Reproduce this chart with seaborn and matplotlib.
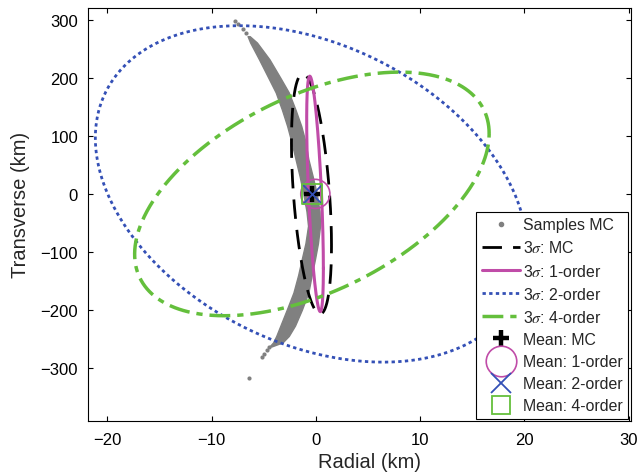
import numpy as np
import pandas as pd
import matplotlib
matplotlib.use("Agg")
import matplotlib.pyplot as plt
import seaborn as sns
from matplotlib.lines import Line2D

# ---------------- data (km) ----------------
# 3-sigma covariance ellipses: centre, 3-sigma extents and correlation
ell_labels = [r"3$\sigma$: MC", r"3$\sigma$: 1-order", r"3$\sigma$: 2-order", r"3$\sigma$: 4-order"]
ell_center_r = [-0.42, -0.08, -0.45, -0.38]
ell_center_t = [0.0, 0.0, 0.0, 0.0]
ell_3sig_r = [1.92, 0.8, 20.7, 17.0]
ell_3sig_t = [207.0, 203.0, 290.0, 210.0]
ell_corr = [-0.43, -0.63, -0.333, 0.495]

# mean estimates
mean_labels = ["Mean: MC", "Mean: 1-order", "Mean: 2-order", "Mean: 4-order"]
mean_r = [-0.38, -0.05, -0.36, -0.38]
mean_t = [0.0, 0.0, 0.0, 0.0]

# Monte Carlo sample cloud: dense band outline (transverse level, left / right radial edge)
band_t = [272, 261, 232, 200, 175, 145, 117, 90, 60, 30, 0, -30, -55, -85, -112, -140, -170, -200, -227, -245, -256, -263]
band_left = [-6.55, -6.3, -5.45, -4.55, -3.85, -3.25, -2.75, -2.35, -1.95, -1.55, -1.2, -0.9, -0.75, -1.0, -1.35, -1.7, -2.15, -2.8, -3.4, -3.8, -4.1, -4.45]
band_right = [-6.35, -5.65, -4.45, -3.4, -2.6, -1.95, -1.4, -1.0, -0.72, -0.3, 0.09, 0.35, 0.4, 0.2, -0.08, -0.4, -0.72, -1.35, -2.0, -2.6, -3.2, -4.25]
# sparse samples outside the dense band
tail_r = [-7.74, -7.42, -7.0, -6.7, -4.45, -4.7, -4.95, -5.18, -6.37]
tail_t = [298, 292.6, 284, 278, -264, -269, -276, -281.6, -318]

# ---------------- style ----------------
sns.set_theme(style="ticks")
plt.rcParams["font.family"] = ["Liberation Sans", "DejaVu Sans"]
plt.rcParams["mathtext.fontset"] = "stix"
plt.rcParams["axes.linewidth"] = 0.8

c_gray = "#808080"
c_mag = "#c04ca8"
c_blue = "#3450b6"
c_green = "#64bf3c"
ell_colors = ["black", c_mag, c_blue, c_green]
ell_styles = [(0, (7, 4)), "-", (0, (1.2, 1.2)), (0, (6.0, 2.0, 1.8, 2.0))]
ell_widths = [2.0, 2.2, 2.0, 2.5]

fig = plt.figure(figsize=(6.38, 4.77), dpi=100)
ax = fig.add_axes([0.1375, 0.1147, 0.8508, 0.8658])

# sample cloud
ax.fill_betweenx(band_t, band_left, band_right, color=c_gray, linewidth=1.0, edgecolor=c_gray, zorder=1)
sns.scatterplot(x=tail_r, y=tail_t, color=c_gray, s=9, linewidth=0, ax=ax, zorder=1)

# covariance ellipses
theta = np.linspace(0, 2 * np.pi, 721)
for i in range(4):
    a = ell_3sig_r[i]
    b = ell_3sig_t[i]
    rho = ell_corr[i]
    er = ell_center_r[i] + a * np.cos(theta)
    et = ell_center_t[i] + b * (rho * np.cos(theta) + np.sqrt(1 - rho ** 2) * np.sin(theta))
    df = pd.DataFrame({"r": er, "t": et})
    sns.lineplot(data=df, x="r", y="t", sort=False, estimator=None, color=ell_colors[i],
                 linestyle=ell_styles[i], linewidth=ell_widths[i], dash_capstyle="butt",
                 ax=ax, zorder=2 + i, legend=False)

# mean markers
sns.scatterplot(x=[mean_r[0]], y=[mean_t[0]], marker="+", s=130, color="black", linewidth=3.2, ax=ax, zorder=7)
sns.scatterplot(x=[mean_r[1]], y=[mean_t[1]], marker="o", s=440, facecolor="none", edgecolor=c_mag, linewidth=1.2, ax=ax, zorder=8)
sns.scatterplot(x=[mean_r[2]], y=[mean_t[2]], marker="x", s=200, color=c_blue, linewidth=1.3, ax=ax, zorder=9)
sns.scatterplot(x=[mean_r[3]], y=[mean_t[3]], marker="s", s=200, facecolor="none", edgecolor=c_green, linewidth=1.3, ax=ax, zorder=10)

# axes
ax.set_xlim(-21.88, 30.18)
ax.set_ylim(-392, 320)
ax.set_xticks([-20, -10, 0, 10, 20, 30])
ax.set_yticks([-300, -200, -100, 0, 100, 200, 300])
ax.tick_params(direction="in", top=True, right=True, length=3.3, width=0.8, labelsize=12, pad=8, colors="black")
ax.tick_params(axis="y", pad=7)
for s in ax.spines.values():
    s.set_visible(True)
    s.set_color("black")
    s.set_linewidth(0.8)
ax.set_xlabel("Radial (km)", fontsize=14.5)
ax.set_ylabel("Transverse (km)", fontsize=14.5)
ax.xaxis.set_label_coords(0.519, -0.075)
ax.yaxis.set_label_coords(-0.106, 0.526)

# legend
handles = [Line2D([], [], linestyle="none", marker="o", markersize=3, color=c_gray)]
for i in range(4):
    handles.append(Line2D([], [], color=ell_colors[i], linestyle=ell_styles[i], linewidth=ell_widths[i], dash_capstyle="butt"))
handles += [
    Line2D([], [], linestyle="none", marker="+", markersize=12, markeredgewidth=3.2, color="black"),
    Line2D([], [], linestyle="none", marker="o", markersize=22, markerfacecolor="none", markeredgecolor=c_mag, markeredgewidth=1.2),
    Line2D([], [], linestyle="none", marker="x", markersize=14, markeredgewidth=1.3, color=c_blue),
    Line2D([], [], linestyle="none", marker="s", markersize=13, markerfacecolor="none", markeredgecolor=c_green, markeredgewidth=1.3),
]
labels = ["Samples MC"] + ell_labels + mean_labels
leg = ax.legend(handles=handles, labels=labels, loc="lower right", bbox_to_anchor=(1.0, 0.0),
                borderaxespad=0.15, fontsize=11.4, frameon=True, fancybox=False, framealpha=1,
                edgecolor="black", handlelength=2.4, handletextpad=0.2, labelspacing=0.45,
                borderpad=0.35)
leg.get_frame().set_linewidth(0.8)
leg.set_zorder(20)

fig.savefig("out.png", dpi=100)
